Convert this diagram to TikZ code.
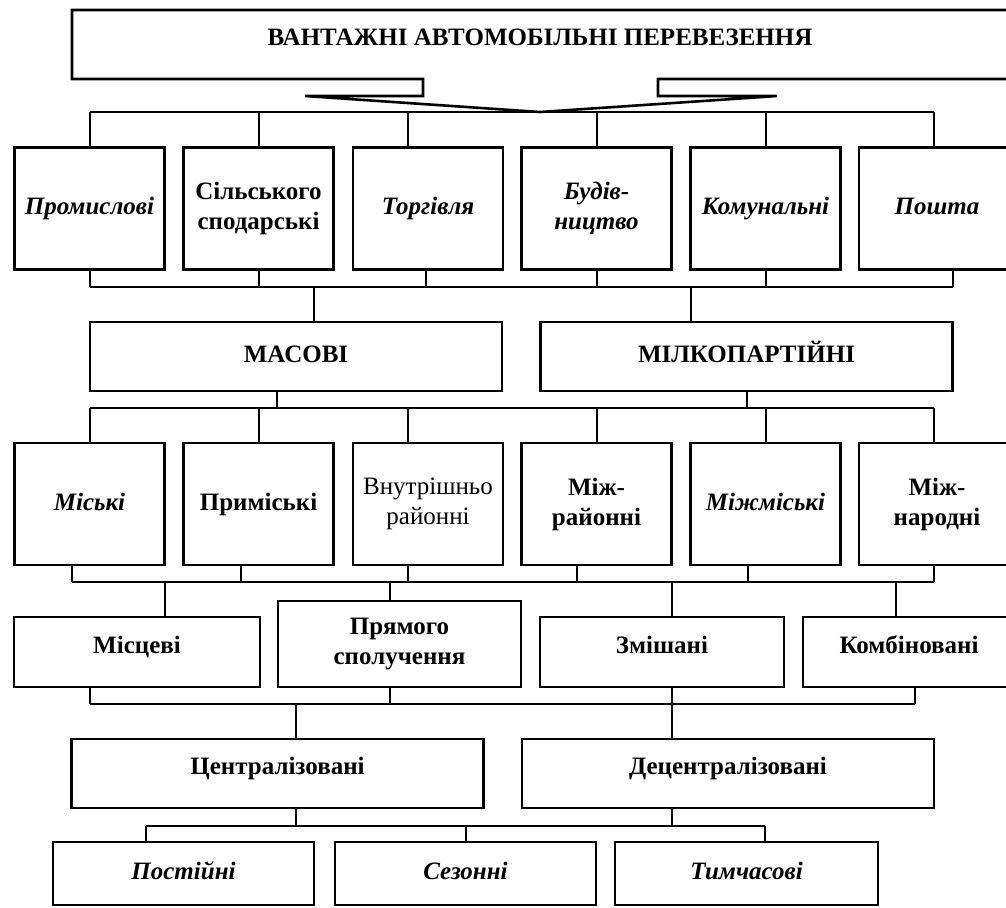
\documentclass[tikz,border=0pt]{standalone}
\usepackage{fontspec}
\setmainfont{Liberation Serif}
\newcommand\boxfont{\fontsize{12.5}{15}\selectfont}
\begin{document}
\begin{tikzpicture}
[x=0.5pt, y=-0.5pt, font=\boxfont\bfseries]
\tikzstyle{frame}=[draw, line width=1.3pt]
\tikzstyle{box}=[frame, align=center, inner sep=1pt]
\tikzstyle{tall}=[box, minimum width=75pt, minimum height=61pt]
\tikzstyle{wide}=[box, minimum width=206pt, minimum height=34.5pt]
\tikzstyle{mid}=[box, minimum height=35pt]
\tikzstyle{low}=[box, minimum width=130.5pt, minimum height=31.5pt]
\tikzstyle{ital}=[font=\boxfont\bfseries\itshape]
\tikzstyle{thin}=[font=\boxfont\mdseries]
\tikzstyle{one}=[text height=9pt, text depth=3pt]
\tikzstyle{lift}=[text height=8pt, text depth=7pt]
\tikzstyle{link}=[line width=1pt]
\tikzstyle{bus}=[line width=1.4pt]
\useasboundingbox (0,0) rectangle (1006,907);

% header with arrow
\node[lift] (H) at (540,44.5) {ВАНТАЖНІ АВТОМОБІЛЬНІ ПЕРЕВЕЗЕННЯ};
\coordinate (tip) at (540,112);
\draw[frame] (1014,10) -- (72,10) -- (72,79) -- (423,79) -- (423,96) -- (305,96)
  -- (tip) -- (777,96) -- (658,96) -- (658,79) -- (1014,79);

% rows
\node[tall, one, ital]	(P1)	at (89.5,208.5)	{Промислові};
\node[tall]		(P2)	at (258.5,208.5)	{Сільського\\сподарські};
\node[tall, one, ital]	(P3)	at (428,208.5)	{Торгівля};
\node[tall, ital]	(P4)	at (596.5,208.5)	{Будів-\\ництво};
\node[tall, one, ital]	(P5)	at (765.5,208.5)	{Комунальні};
\node[tall, one, ital, minimum width=78pt]	(P6)	at (937,208.5)	{Пошта};

\node[wide, one]	(M1)	at (296,356.5)	{МАСОВІ};
\node[wide, one]	(M2)	at (746.5,356.5)	{МІЛКОПАРТІЙНІ};

\node[tall, one, ital]	(R1)	at (89.5,504)	{Міські};
\node[tall, one]	(R2)	at (258.5,504)	{Приміські};
\node[tall, thin]	(R3)	at (428,504)	{Внутрішньо\\районні};
\node[tall]		(R4)	at (596.5,504)	{Між-\\районні};
\node[tall, one, ital]	(R5)	at (765.5,504)	{Міжміські};
\node[tall, minimum width=78pt]	(R6)	at (937,504)	{Між-\\народні};

\node[mid, lift, minimum width=123pt]	(Q1)	at (137,652)	{Місцеві};
\node[mid, minimum width=121.5pt, minimum height=43pt]	(Q2)	at (399.5,644)	{Прямого\\сполучення};
\node[mid, lift, minimum width=122pt]	(Q3)	at (662,652)	{Змішані};
\node[mid, lift, minimum width=106pt]	(Q4)	at (909,652)	{Комбіновані};

\node[wide, lift]	(C1)	at (277.5,773.5)	{Централізовані};
\node[wide, lift]	(C2)	at (728,773.5)	{Децентралізовані};

\node[low, one, ital]	(S1)	at (183.5,873.5)	{Постійні};
\node[low, one, ital]	(S2)	at (465.5,873.5)	{Сезонні};
\node[low, one, ital, minimum width=131.5pt]	(S3)	at (746.5,873.5)	{Тимчасові};

% buses
\coordinate (b1) at (0,112);
\coordinate (b2) at (0,287);
\coordinate (b3) at (0,408);
\coordinate (b4) at (0,582);
\coordinate (b5) at (0,704);
\coordinate (b6) at (0,826);

\foreach \n/\d in {P1/0,P2/0,P3/-10,P4/0,P5/0,P6/-1.5}
  \draw[link] ([xshift=\d pt]\n.north |- b1) -- ([xshift=\d pt]\n.north);
\draw[bus] (P1.north |- b1) -- ([xshift=-1.5pt]P6.north |- b1);

\foreach \n/\d in {P1/0,P2/0,P3/-1,P4/0,P5/0,P6/8}
  \draw[link] ([xshift=\d pt]\n.south) -- ([xshift=\d pt]\n.south |- b2);
\draw[bus] (P1.south |- b2) -- ([xshift=8pt]P6.south |- b2);
\draw[link] ([xshift=9pt]M1.north |- b2) -- ([xshift=9pt]M1.north);
\draw[link] ([xshift=-28pt]M2.north |- b2) -- ([xshift=-28pt]M2.north);

\draw[link] ([xshift=-9.5pt]M1.south) -- ([xshift=-9.5pt]M1.south |- b3);
\draw[link] (M2.south) -- (M2.south |- b3);
\foreach \n/\d in {R1/0,R2/0,R3/-10,R4/0,R5/0,R6/-1.5}
  \draw[link] ([xshift=\d pt]\n.north |- b3) -- ([xshift=\d pt]\n.north);
\draw[bus] (R1.north |- b3) -- ([xshift=-1.5pt]R6.north |- b3);

\foreach \n/\d in {R1/-9,R2/-9,R3/-10,R4/-10,R5/-9,R6/-1.5}
  \draw[link] ([xshift=\d pt]\n.south) -- ([xshift=\d pt]\n.south |- b4);
\draw[bus] ([xshift=-9pt]R1.south |- b4) -- ([xshift=-1.5pt]R6.south |- b4);
\foreach \n/\d in {Q1/14,Q2/-5,Q3/5,Q4/-6.5}
  \draw[link] ([xshift=\d pt]\n.north |- b4) -- ([xshift=\d pt]\n.north);

\foreach \n/\d in {Q1/-23.5,Q2/-5,Q4/3}
  \draw[link] ([xshift=\d pt]\n.south) -- ([xshift=\d pt]\n.south |- b5);
\draw[bus] ([xshift=-23.5pt]Q1.south |- b5) -- ([xshift=3pt]Q4.south |- b5);
\draw[link] ([xshift=5pt]Q3.south) -- ([xshift=5pt]Q3.south |- C2.north);
\draw[link] ([xshift=9pt]C1.north |- b5) -- ([xshift=9pt]C1.north);

\draw[link] ([xshift=9pt]C1.south) -- ([xshift=9pt]C1.south |- b6);
\draw[link] ([xshift=-28pt]C2.south) -- ([xshift=-28pt]C2.south |- b6);
\foreach \n/\d in {S1/-19,S2/0,S3/9}
  \draw[link] ([xshift=\d pt]\n.north |- b6) -- ([xshift=\d pt]\n.north);
\draw[bus] ([xshift=-19pt]S1.north |- b6) -- ([xshift=9pt]S3.north |- b6);

\end{tikzpicture}
\end{document}
